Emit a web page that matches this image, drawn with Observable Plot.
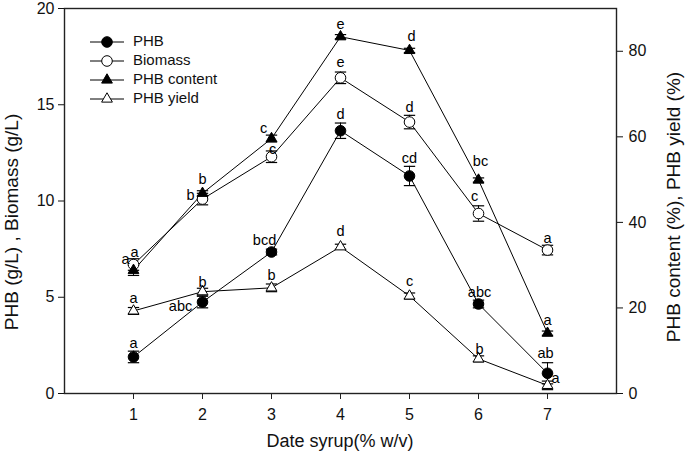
<!DOCTYPE html>
<html>
<head>
<meta charset="utf-8">
<script src="https://cdn.jsdelivr.net/npm/d3@7"></script>
<script src="https://cdn.jsdelivr.net/npm/@observablehq/plot@0.6"></script>
<style>
  html, body { margin: 0; padding: 0; background: #fff; }
  #chart svg { display: block; }
</style>
</head>
<body>
<div id="chart"></div>
<script>
// ---------- data ----------
const doses = [1, 2, 3, 4, 5, 6, 7];
const xTicks = [1, 2, 3, 4, 5, 6, 7];
const leftTicks = [0, 5, 10, 15, 20];
const rightTicks = [0, 20, 40, 60, 80];
const leftDomain = [0, 20];
const rightDomain = [0, 90];

const phb = [1.9, 4.75, 7.35, 13.65, 11.3, 4.65, 1.05];          // g/L
const phbErr = [0.3, 0.3, 0.15, 0.4, 0.5, 0.2, 0.55];
const biomass = [6.7, 10.1, 12.3, 16.4, 14.1, 9.35, 7.45];       // g/L
const biomassErr = [0.3, 0.3, 0.3, 0.3, 0.35, 0.4, 0.25];
const phbContent = [28.8, 46.8, 59.6, 83.4, 80.2, 49.9, 14.1];   // %
const phbContentErr = [1.2, 0.6, 0.8, 0.5, 0.5, 0.5, 0.5];
const phbYield = [19.3, 23.8, 24.7, 34.3, 22.8, 8.1, 1.9];        // %
const phbYieldErr = [0.8, 0.8, 0.9, 0.6, 0.7, 0.7, 1.0];

const phbLetters = ["a", "abc", "bcd", "d", "cd", "abc", "ab"];
const biomassLetters = ["a", "b", "c", "e", "d", "c", "a"];
const contentLetters = ["a", "b", "c", "e", "d", "bc", "a"];
const yieldLetters = ["a", "b", "b", "d", "c", "b", "a"];

const seriesNames = ["PHB", "Biomass", "PHB content", "PHB yield"];

// ---------- layout / style (not data) ----------
const FONT = "'Liberation Sans', Arial, Helvetica, sans-serif";
const W = 685, H = 461;
const M = {left: 64, right: 69, top: 8, bottom: 68};
const factor = rightDomain[1] / leftDomain[1]; // % per g/L on the shared vertical scale

// letter offsets [dx, dy] in px, per series per point
const phbOff = [[0,-14],[-22,4],[-7,-12],[0,-16],[0,-18],[1,-12],[-2,-20]];
const bioOff = [[-8,-5],[-12,-4],[1,-7],[0,-15],[0,-15],[-4,-17],[0,-12]];
const conOff = [[1,-18],[0,-14],[-8,-10],[0,-12],[2,-14],[2,-19],[0,-13]];
const yldOff = [[0,-13],[0,-9],[0,-12],[0,-15],[0,-15],[1,-9],[8,-7]];

const series = [
  {name: seriesNames[0], values: phb, err: phbErr, letters: phbLetters, off: phbOff, k: 1, symbol: "circle", fill: "black", r: 5.3},
  {name: seriesNames[1], values: biomass, err: biomassErr, letters: biomassLetters, off: bioOff, k: 1, symbol: "circle", fill: "white", r: 5.3},
  {name: seriesNames[2], values: phbContent, err: phbContentErr, letters: contentLetters, off: conOff, k: factor, symbol: "triangle", fill: "black", r: 4},
  {name: seriesNames[3], values: phbYield, err: phbYieldErr, letters: yieldLetters, off: yldOff, k: factor, symbol: "triangle", fill: "white", r: 4}
];

const rows = series.flatMap(s => doses.map((x, i) => ({
  series: s.name, x,
  y: s.values[i] / s.k,
  lo: (s.values[i] - s.err[i]) / s.k,
  hi: (s.values[i] + s.err[i]) / s.k,
  letter: s.letters[i], off: s.off[i]
})));

const capSymbol = {
  draw(context, size) {
    const w = Math.sqrt(size);
    context.moveTo(-w, 0);
    context.lineTo(w, 0);
  }
};

const marks = [
  Plot.ruleX(rows, {x: "x", y1: "lo", y2: "hi", stroke: "black", strokeWidth: 1}),
  Plot.dot(rows, {x: "x", y: "lo", symbol: capSymbol, r: 3.2, stroke: "black", strokeWidth: 1.2}),
  Plot.dot(rows, {x: "x", y: "hi", symbol: capSymbol, r: 3.2, stroke: "black", strokeWidth: 1.2}),
  Plot.line(rows, {x: "x", y: "y", z: "series", stroke: "black", strokeWidth: 1}),
  ...series.map(s => Plot.dot(rows.filter(d => d.series === s.name), {
    x: "x", y: "y", symbol: s.symbol, r: s.r, fill: s.fill, stroke: "black", strokeWidth: 1
  })),
  ...rows.map(d => Plot.text([d], {
    x: "x", y: "y", text: "letter", dx: d.off[0], dy: d.off[1],
    fontSize: 14.5, fill: "black", fontFamily: FONT
  })),
  Plot.frame({stroke: "#222", strokeWidth: 1.4}),
  Plot.axisX({ticks: xTicks, tickSize: 6, tickPadding: 9, label: null, stroke: "#222"}),
  Plot.axisY({anchor: "left", ticks: leftTicks, tickSize: 6, tickPadding: 4, label: null}),
  Plot.axisY({anchor: "right", ticks: rightTicks.map(v => v / factor), tickFormat: d => String(Math.round(d * factor)),
              tickSize: 6, tickPadding: 6, label: null})
];

const svg = Plot.plot({
  width: W, height: H,
  marginLeft: M.left, marginRight: M.right, marginTop: M.top, marginBottom: M.bottom,
  x: {domain: [0, 8]},
  y: {domain: leftDomain},
  style: {fontFamily: FONT, fontSize: "16px", color: "#111", background: "white"},
  marks
});

// axis titles
const s = d3.select(svg);
const cx = M.left + (W - M.left - M.right) / 2;
s.append("text").attr("x", cx).attr("y", 442).attr("text-anchor", "middle")
  .attr("dominant-baseline", "middle").style("font", `18px ${FONT}`).attr("fill", "#111")
  .text("Date syrup(% w/v)");
s.append("text").attr("transform", "translate(13,222) rotate(-90)").attr("text-anchor", "middle")
  .attr("dominant-baseline", "middle").style("font", `19px ${FONT}`).attr("fill", "#111")
  .text("PHB (g/L) , Biomass (g/L)");
s.append("text").attr("transform", "translate(675,207) rotate(-90)").attr("text-anchor", "middle")
  .attr("dominant-baseline", "middle").style("font", `19px ${FONT}`).attr("fill", "#111")
  .text("PHB content (%), PHB yield (%)");

// legend
const lg = s.append("g").attr("text-anchor", "start");
const symPaths = {
  circle: d3.symbol(d3.symbolCircle, Math.PI * 5.3 * 5.3)(),
  triangle: d3.symbol(d3.symbolTriangle, Math.PI * 4 * 4)()
};
series.forEach((ser, i) => {
  const y = 42 + i * 19;
  lg.append("line").attr("x1", 90).attr("x2", 124).attr("y1", y).attr("y2", y)
    .attr("stroke", "black").attr("stroke-width", 1);
  lg.append("path").attr("d", symPaths[ser.symbol]).attr("transform", `translate(107,${y})`)
    .attr("fill", ser.fill).attr("stroke", "black").attr("stroke-width", 1);
  lg.append("text").attr("x", 133).attr("y", y).attr("dominant-baseline", "middle")
    .attr("text-anchor", "start")
    .style("font", `15px ${FONT}`).attr("fill", "#111").text(ser.name);
});

document.getElementById("chart").appendChild(svg);
</script>
</body>
</html>
